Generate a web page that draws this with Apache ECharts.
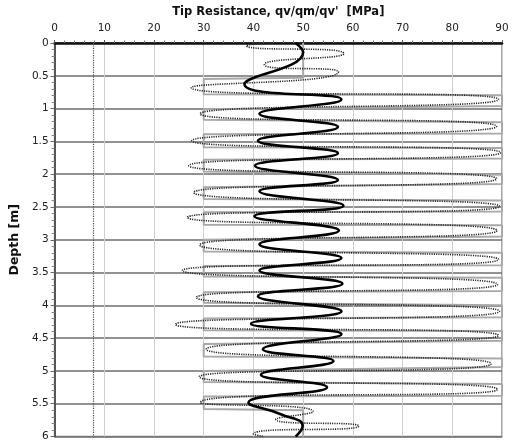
<!DOCTYPE html>
<html>
<head>
<meta charset="utf-8">
<script src="https://cdn.jsdelivr.net/npm/echarts@6/dist/echarts.min.js"></script>
<style>
  html, body { margin: 0; padding: 0; background: #ffffff; }
  #chart { width: 513px; height: 442px; }
</style>
</head>
<body>
<div id="chart"></div>
<script>
// Axis ranges and tick steps
const resistanceMin = 0, resistanceMax = 90, resistanceStep = 10;
const depthMin = 0, depthMax = 6, depthStep = 0.5;

// qv: oscillating trace (dotted)
const qvDepth = [0.00, 0.04, 0.16, 0.33, 0.44, 0.68, 0.86, 1.08, 1.27, 1.49, 1.67, 1.87, 2.07, 2.28,
                 2.49, 2.66, 2.86, 3.08, 3.30, 3.47, 3.68, 3.88, 4.09, 4.29, 4.46, 4.67, 4.89, 5.09,
                 5.28, 5.48, 5.62, 5.74, 5.84, 5.96, 6.00];
const qvValue = [44.0, 38.6, 58.2, 42.2, 57.1, 27.5, 89.3, 29.3, 88.9, 27.6, 89.7, 27.0, 88.9, 28.0,
                 89.5, 26.7, 89.0, 29.2, 89.3, 25.7, 89.1, 28.5, 89.5, 24.3, 89.3, 30.5, 87.8, 29.1,
                 89.1, 29.3, 52.0, 44.5, 61.2, 40.0, 42.0];

// qm: mean trace (solid)
const qmDepth = [0.00, 0.14, 0.63, 0.86, 1.08, 1.28, 1.49, 1.68, 1.87, 2.09, 2.26, 2.48, 2.64,
                 2.86, 3.07, 3.28, 3.47, 3.67, 3.86, 4.09, 4.28, 4.44, 4.67, 4.85, 5.06, 5.25, 5.48,
                 5.66, 5.84, 6.00];
const qmValue = [48.5, 50.0, 38.2, 57.7, 41.2, 57.0, 40.9, 57.0, 40.3, 57.0, 41.2, 58.1, 40.2,
                 57.2, 41.2, 57.7, 41.2, 57.9, 40.9, 57.7, 39.5, 57.7, 41.9, 56.1, 41.5, 54.8, 39.0,
                 45.5, 49.9, 48.5];

// qv': stepped envelope (grey)
const qvPrimeDepth = [0.00, 0.53, 0.55, 0.78, 0.795, 0.96, 1.01, 1.17, 1.21, 1.38, 1.39, 1.59, 1.60, 1.76,
                      1.78, 1.96, 2.01, 2.15, 2.20, 2.38, 2.40, 2.57, 2.58, 2.77, 2.78, 2.95, 3.00, 3.18,
                      3.20, 3.39, 3.40, 3.56, 3.58, 3.78, 3.80, 3.96, 4.00, 4.18, 4.20, 4.38, 4.39, 4.54,
                      4.59, 4.78, 4.81, 4.94, 5.00, 5.17, 5.20, 5.38, 5.39, 5.58, 5.60, 6.00];
const qvPrimeValue = [50, 50, 30, 30, 90, 90, 30, 30, 90, 90, 30, 30, 90, 90,
                      30, 30, 90, 90, 30, 30, 90, 90, 30, 30, 90, 90, 30, 30,
                      90, 90, 30, 30, 90, 90, 30, 30, 90, 90, 30, 30, 90, 90,
                      30, 30, 90, 90, 30, 30, 90, 90, 30, 30, 50, 50];

// Reference limit (dotted vertical)
const limitValue = 7.8;

const pairs = (xs, ys) => xs.map((x, i) => [x, ys[i]]);
const font = 'DejaVu Sans';

const chart = echarts.init(document.getElementById('chart'), null, { renderer: 'canvas' });
chart.setOption({
  animation: false,
  backgroundColor: '#ffffff',
  grid: {
    left: 53, right: 11, top: 43, bottom: 4.5,
    show: true, borderColor: '#8a8a8a', borderWidth: 1.5, backgroundColor: 'transparent'
  },
  xAxis: {
    type: 'value',
    position: 'top',
    min: resistanceMin, max: resistanceMax, interval: resistanceStep,
    name: "Tip Resistance, qv/qm/qv'  [MPa]",
    nameLocation: 'middle',
    nameGap: 22,
    nameTextStyle: { fontFamily: font, fontWeight: 'bold', fontSize: 11.5, color: '#111' },
    axisLine: { show: true, onZero: false, lineStyle: { color: '#111', width: 2.5 } },
    axisTick: { show: true, length: 3, lineStyle: { color: '#555', width: 1 } },
    minorTick: { show: true, splitNumber: 5, length: 2.5, lineStyle: { color: '#777', width: 1 } },
    axisLabel: { fontFamily: font, fontSize: 10.5, color: '#222', margin: 9 },
    splitLine: { show: true, lineStyle: { color: '#cfcfcf', width: 1 } }
  },
  yAxis: {
    type: 'value',
    inverse: true,
    min: depthMin, max: depthMax, interval: depthStep,
    name: 'Depth [m]',
    nameLocation: 'middle',
    nameGap: 30,
    nameRotate: 90,
    nameTextStyle: { fontFamily: font, fontWeight: 'bold', fontSize: 12.5, color: '#111' },
    axisLine: { show: true, onZero: false, lineStyle: { color: '#555', width: 2 } },
    axisTick: { show: true, length: 4, lineStyle: { color: '#666', width: 1 } },
    minorTick: { show: true, splitNumber: 5, length: 3, lineStyle: { color: '#888', width: 1 } },
    axisLabel: { fontFamily: font, fontSize: 10.5, color: '#222', margin: 6 },
    splitLine: { show: true, lineStyle: { color: '#6e6e6e', width: 1.5 } }
  },
  series: [
    {
      name: "qv'",
      type: 'line',
      data: pairs(qvPrimeValue, qvPrimeDepth),
      showSymbol: false,
      lineStyle: { color: '#a9a9a9', width: 2 },
      z: 2,
      markLine: {
        silent: true,
        symbol: 'none',
        label: { show: false },
        lineStyle: { color: '#555', type: [1.2, 1.2], width: 1.2 },
        data: [{ xAxis: limitValue }]
      }
    },
    {
      name: 'qv',
      type: 'line',
      data: pairs(qvValue, qvDepth),
      smooth: 0.8,
      showSymbol: false,
      lineStyle: { color: '#2a2a2a', width: 1.6, type: [1.2, 1.1] },
      z: 3
    },
    {
      name: 'qm',
      type: 'line',
      data: pairs(qmValue, qmDepth),
      smooth: 0.5,
      showSymbol: false,
      lineStyle: { color: '#000', width: 2.6 },
      z: 4
    }
  ]
});
</script>
</body>
</html>
